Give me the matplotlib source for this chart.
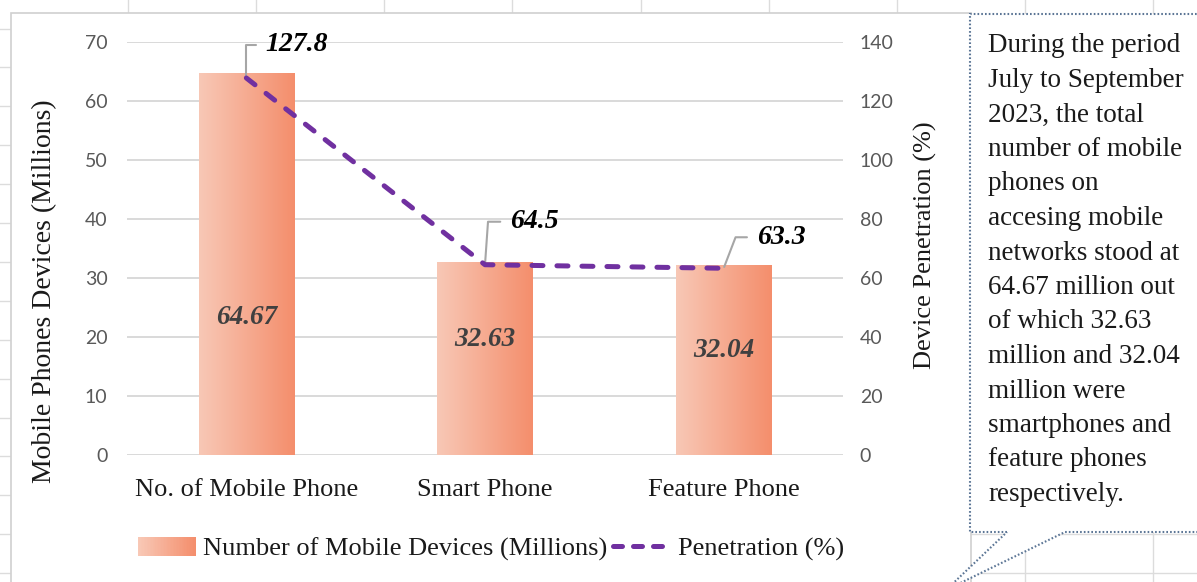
import numpy as np
import matplotlib
matplotlib.use("Agg")
import matplotlib.pyplot as plt
from matplotlib.colors import LinearSegmentedColormap
from matplotlib.patches import Rectangle, Polygon, FancyBboxPatch
from matplotlib.lines import Line2D
from matplotlib.legend_handler import HandlerBase

# ---- data ----
categories = ["No. of Mobile Phone", "Smart Phone", "Feature Phone"]
devices_millions = [64.67, 32.63, 32.04]
penetration_pct = [127.8, 64.5, 63.3]
left_ticks = [0, 10, 20, 30, 40, 50, 60, 70]
right_ticks = [0, 20, 40, 60, 80, 100, 120, 140]
series_names = ["Number of Mobile Devices (Millions)", "Penetration (%)"]
note_lines = [
    "During the period",
    "July to September",
    "2023, the total",
    "number of mobile",
    "phones on",
    "accesing mobile",
    "networks stood at",
    "64.67 million out",
    "of which 32.63",
    "million and 32.04",
    "million were",
    "smartphones and",
    "feature phones",
    "respectively.",
]

# ---- style ----
SERIF = "Liberation Serif"
SANS = "Lato"
BAR_LEFT = "#F8C8B6"
BAR_RIGHT = "#F48E6C"
LINE_COLOR = "#7030A0"
TICK_COLOR = "#595959"
GRID_COLOR = "#D9D9D9"
W, H = 1197, 582
LINE_DASHES = (2.2, 2.8)

bar_cmap = LinearSegmentedColormap.from_list("bar", [BAR_LEFT, BAR_RIGHT])


def fx(px):
    return px / W


def fy(py):
    return 1 - py / H


fig = plt.figure(figsize=(W / 100, H / 100), dpi=100)
fig.patch.set_facecolor("white")

# worksheet cell grid behind the chart object
for k in range(1, 10):
    x = 128.1 * k
    fig.add_artist(Line2D([fx(x), fx(x)], [0, 1], color="#DCDCDC", lw=1.0,
                          transform=fig.transFigure, zorder=-3))
for k in range(0, 15):
    y = 28.5 + 38.9 * k
    fig.add_artist(Line2D([0, 1], [fy(y), fy(y)], color="#DCDCDC", lw=1.0,
                          transform=fig.transFigure, zorder=-3))

# chart object area
fig.add_artist(FancyBboxPatch((fx(11), fy(620)), fx(971) - fx(11), fy(13) - fy(620),
                              boxstyle="square,pad=0", transform=fig.transFigure,
                              facecolor="white", edgecolor="#D0D0D0", lw=1.2, zorder=-2))

# ---- axes ----
ax = fig.add_axes([fx(127), fy(455), (843 - 127) / W, (455 - 42) / H])
ax.patch.set_visible(False)
x = np.arange(len(categories))
bars = ax.bar(x, devices_millions, width=0.4, color="none", edgecolor="none", zorder=2)

grad = np.linspace(0, 1, 256).reshape(1, -1)
for rect in bars:
    x0, w, h = rect.get_x(), rect.get_width(), rect.get_height()
    ax.imshow(grad, extent=[x0, x0 + w, 0, h], aspect="auto", cmap=bar_cmap,
              origin="lower", zorder=2, interpolation="bicubic")

ax.set_xlim(-0.5, len(categories) - 0.5)
ax.set_ylim(left_ticks[0], left_ticks[-1])
ax.set_yticks(left_ticks)
ax.set_xticks(x)
ax.set_xticklabels(categories, fontfamily=SERIF, fontsize=19, color="#1A1A1A")
ax.tick_params(axis="x", length=0, pad=17)
ax.tick_params(axis="y", length=0, pad=14, labelcolor=TICK_COLOR, labelsize=14)
for lab in ax.get_yticklabels():
    lab.set_fontfamily(SANS)
ax.set_axisbelow(True)
ax.yaxis.grid(True, color=GRID_COLOR, lw=1.4)
for s in ax.spines.values():
    s.set_visible(False)

# value labels inside the bars
inside_frac = [0.36, 0.60, 0.555]
for rect, v, f in zip(bars, devices_millions, inside_frac):
    ax.text(rect.get_x() + rect.get_width() / 2, v * f, f"{v:.2f}",
            ha="center", va="center", fontfamily=SERIF, fontsize=19.5,
            fontweight="bold", fontstyle="italic", color="#404040", zorder=3)

# penetration line on secondary axis
ax2 = ax.twinx()
ax2.set_ylim(right_ticks[0], right_ticks[-1])
ax2.set_yticks(right_ticks)
ax2.tick_params(axis="y", length=0, pad=12, labelcolor=TICK_COLOR, labelsize=14)
for lab in ax2.get_yticklabels():
    lab.set_fontfamily(SANS)
for s in ax2.spines.values():
    s.set_visible(False)

ax2.plot(x, penetration_pct, color=LINE_COLOR, lw=3.6, dashes=LINE_DASHES,
         dash_capstyle="round", zorder=4)

label_offsets = [(19, 33), (25, 43), (33, 31)]
leader_angles = [90, 86, 69]
for xi, v, (dx, dy), ang in zip(x, penetration_pct, label_offsets, leader_angles):
    ax2.annotate(f"{v:.1f}", xy=(xi, v), xytext=(dx, dy), textcoords="offset pixels",
                 ha="left", va="center", fontfamily=SERIF, fontsize=20,
                 fontweight="bold", fontstyle="italic", color="black",
                 arrowprops=dict(arrowstyle="-", color="#A6A6A6", lw=1.5,
                                 relpos=(0, 0.5), shrinkA=5, shrinkB=1,
                                 connectionstyle=f"angle,angleA=0,angleB={ang},rad=0"))

# axis titles
fig.text(fx(45), fy(291), "Mobile Phones Devices (Millions)", rotation=90,
         ha="center", va="center", fontfamily=SERIF, fontsize=20, color="#1A1A1A")
fig.text(fx(925), fy(245), "Device Penetration (%)", rotation=90,
         ha="center", va="center", fontfamily=SERIF, fontsize=19, color="#1A1A1A")


# legend with a gradient swatch
class GradientHandler(HandlerBase):
    def create_artists(self, legend, orig_handle, xdescent, ydescent,
                       width, height, fontsize, trans):
        n = 40
        arts = []
        for i in range(n):
            arts.append(Rectangle((-xdescent + width * i / n, -ydescent),
                                  width / n * 1.08, height,
                                  facecolor=bar_cmap(i / (n - 1)), edgecolor="none",
                                  transform=trans))
        return arts


bar_handle = Rectangle((0, 0), 1, 1)
line_handle = Line2D([], [], color=LINE_COLOR, lw=3.6, dashes=(1.8, 2.2),
                     dash_capstyle="round")
leg = ax.legend([bar_handle, line_handle], series_names,
                handler_map={Rectangle: GradientHandler()},
                loc="center", bbox_to_anchor=(fx(491), fy(549)),
                bbox_transform=fig.transFigure, ncol=2, frameon=False,
                handlelength=2.2, handleheight=0.7, handletextpad=0.27,
                columnspacing=0.2, prop={"family": SERIF, "size": 19})
for t in leg.get_texts():
    t.set_color("#1A1A1A")

# callout note box
callout_px = [(1007, 532), (970, 532), (970, 14), (1215, 14), (1215, 532),
              (1065, 532), (946, 590)]
callout = Polygon([(fx(px), fy(py)) for px, py in callout_px], closed=True,
                  transform=fig.transFigure, facecolor="white",
                  edgecolor="#5B7595", lw=1.5, linestyle=(0, (0.8, 1.0)), zorder=1)
fig.add_artist(callout)
for i, line in enumerate(note_lines):
    fig.text(fx(988), fy(46 + 34.5 * i), line, ha="left", va="center",
             fontfamily=SERIF, fontsize=19.5, color="#1A1A1A", zorder=3)

fig.savefig("out.png", dpi=100, facecolor="white")
